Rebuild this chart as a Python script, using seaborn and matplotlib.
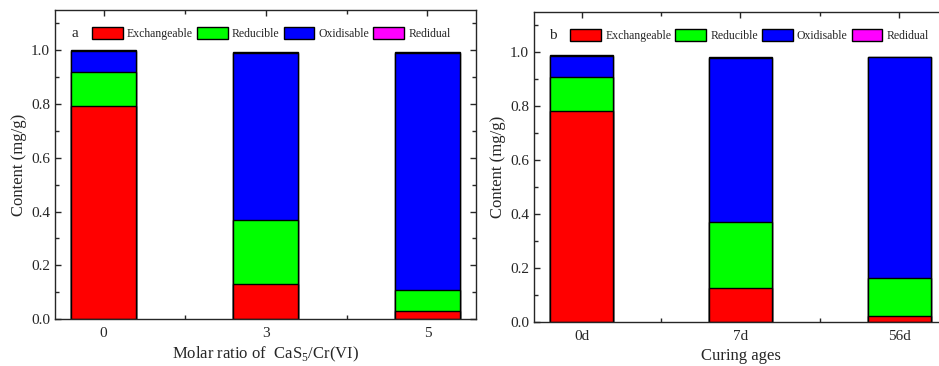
import pandas as pd
import matplotlib.pyplot as plt
import seaborn as sns
from matplotlib.patches import Patch
from matplotlib.ticker import MultipleLocator, FixedLocator

sns.set_style('ticks')
plt.rcParams['font.family'] = ['Liberation Serif', 'DejaVu Serif']
plt.rcParams['mathtext.fontset'] = 'custom'
plt.rcParams['mathtext.rm'] = 'Liberation Serif'

fractions = ['Exchangeable', 'Reducible', 'Oxidisable', 'Redidual']
colors = ['#ff0000', '#00ff00', '#0000ff', '#ff00ff']

# panel a: molar ratio of CaS5/Cr(VI)
ratio_labels = ['0', '3', '5']
ratio_exch = [0.792, 0.130, 0.029]
ratio_red = [0.127, 0.238, 0.080]
ratio_oxi = [0.078, 0.623, 0.882]
ratio_res = [0.003, 0.002, 0.002]

# panel b: curing ages
age_labels = ['0d', '7d', '56d']
age_exch = [0.781, 0.128, 0.022]
age_red = [0.129, 0.242, 0.140]
age_oxi = [0.076, 0.611, 0.820]
age_res = [0.003, 0.002, 0.002]

fig = plt.figure(figsize=(9.39, 3.66), dpi=100)
ax1 = fig.add_axes([0.0586, 0.1284, 0.4484, 0.8443])
ax2 = fig.add_axes([0.5687, 0.1202, 0.4398, 0.8470])


def stacked(ax, labels, layers, tag, xlabel, leg_x, tag_x):
    df = pd.DataFrame({'cat': labels})
    cum = [0.0] * len(labels)
    tops = []
    for vals in layers:
        cum = [c + v for c, v in zip(cum, vals)]
        tops.append(cum)
    # draw from the top layer down so lower layers cover upper ones
    for top, col in reversed(list(zip(tops, colors))):
        df['val'] = top
        sns.barplot(data=df, x='cat', y='val', order=labels, color=col,
                    saturation=1, width=0.4, edgecolor='black',
                    linewidth=1.0, ax=ax)
    ax.set_xlim(-0.3, 2.3)
    ax.set_ylim(0, 1.15)
    ax.yaxis.set_major_locator(MultipleLocator(0.2))
    ax.yaxis.set_minor_locator(MultipleLocator(0.1))
    ax.xaxis.set_minor_locator(FixedLocator([0.5, 1.5]))
    ax.set_yticks([0, 0.2, 0.4, 0.6, 0.8, 1.0])
    ax.set_yticklabels(['0.0', '0.2', '0.4', '0.6', '0.8', '1.0'])
    ax.tick_params(which='both', direction='in', top=True, right=True,
                   labelsize=11, width=1)
    ax.tick_params(which='major', length=4.5)
    ax.tick_params(which='minor', length=3)
    ax.tick_params(axis='x', pad=6)
    for s in ax.spines.values():
        s.set_linewidth(1.0)
    ax.set_ylabel('Content (mg/g)', fontsize=12, labelpad=3)
    ax.set_xlabel(xlabel, fontsize=12, labelpad=3)
    handles = [Patch(facecolor=c, edgecolor='black', linewidth=1.0) for c in colors]
    ax.legend(handles, fractions, ncol=4, loc='center left',
              bbox_to_anchor=(leg_x, 0.925), frameon=False, fontsize=8.5,
              handlelength=2.6, handleheight=1.2, handletextpad=0.35,
              columnspacing=0.35, borderpad=0, borderaxespad=0)
    ax.text(tag_x, 0.925, tag, transform=ax.transAxes, fontsize=11,
            va='center', ha='left')


stacked(ax1, ratio_labels, [ratio_exch, ratio_red, ratio_oxi, ratio_res], 'a',
        'Molar ratio of  CaS$_5$/Cr(VI)', 0.088, 0.038)
stacked(ax2, age_labels, [age_exch, age_red, age_oxi, age_res], 'b',
        'Curing ages', 0.088, 0.036)

fig.savefig('out.png', dpi=100)
